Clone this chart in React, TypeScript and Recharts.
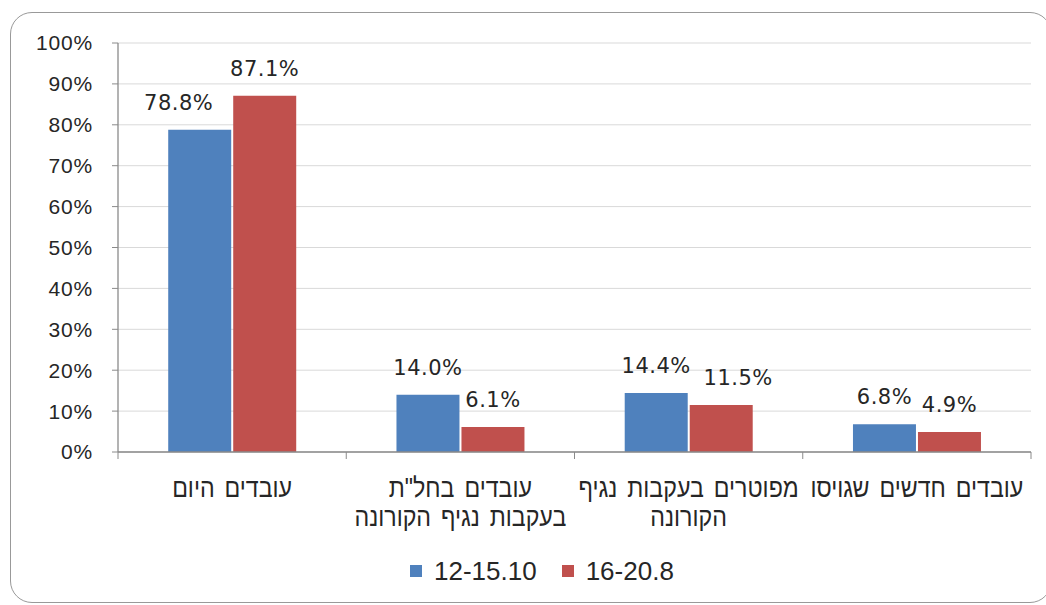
import React from 'react';
import { BarChart, Bar, XAxis, YAxis, CartesianGrid, LabelList, Legend } from 'recharts';

const categories = [
  'עובדים היום',
  'עובדים בחל"ת בעקבות נגיף הקורונה',
  'מפוטרים בעקבות נגיף הקורונה',
  'עובדים חדשים שגויסו',
];
const categoryLines = [
  ['עובדים היום'],
  ['עובדים בחל"ת', 'בעקבות נגיף הקורונה'],
  ['מפוטרים בעקבות נגיף', 'הקורונה'],
  ['עובדים חדשים שגויסו'],
];
const seriesNames = ['12-15.10', '16-20.8'];
const seriesA = [78.8, 14.0, 14.4, 6.8];
const seriesB = [87.1, 6.1, 11.5, 4.9];
const yTicks = [0, 10, 20, 30, 40, 50, 60, 70, 80, 90, 100];

const COLORS = ['#4F81BD', '#C0504D'];
const W = 1046;
const H = 605;
const MARGIN = { top: 43, right: 15, bottom: 73, left: 8 };
const Y_W = 110;
const X_H = 80;
const TICK_SIZE = 6;
const TICK_MARGIN = 2;
const BAND = (W - MARGIN.left - Y_W - MARGIN.right) / categories.length;
const TEXT = '#262626';
const AXIS = '#8a8a8a';
const LABEL_FONT = "'DejaVu Sans', Verdana, sans-serif";

const data = categories.map((c, i) => ({ name: c, a: seriesA[i], b: seriesB[i] }));

const XTick = (props: any) => {
  const { x, y, payload } = props;
  const idx = payload.index ?? props.index ?? 0;
  const lines = categoryLines[idx] || [payload.value];
  const axisY = y - TICK_SIZE - TICK_MARGIN;
  const half = BAND / 2;
  const isLast = idx === categories.length - 1;
  return (
    <g>
      <line x1={x - half} x2={x - half} y1={axisY} y2={axisY + 7} stroke={AXIS} strokeWidth={1} />
      {isLast && <line x1={x + half} x2={x + half} y1={axisY} y2={axisY + 7} stroke={AXIS} strokeWidth={1} />}
      {lines.map((l: string, i: number) => (
        <text
          key={i}
          x={0}
          y={0}
          transform={`translate(${x},${axisY + 45 + i * 29}) scale(0.86,1)`}
          textAnchor="middle"
          fontFamily="'Liberation Sans', Arial, sans-serif"
          fontSize={27}
          fill={TEXT}
          style={{ wordSpacing: 4 }}
        >
          {l}
        </text>
      ))}
    </g>
  );
};

const fmtLabel = (v: any) => `${Number(v).toFixed(1)}%`;

// A couple of labels are nudged sideways in the original chart to avoid overlapping neighbours.
const makeLabel = (nudges: Record<number, number>) => (props: any) => {
  const { x, y, width, value, index } = props;
  const dx = nudges[index] ?? 0;
  return (
    <text x={x + width / 2 + dx} y={y - 20} textAnchor="middle" fontFamily={LABEL_FONT} fontSize={21} fill={TEXT} style={{ letterSpacing: 0.5 }}>
      {fmtLabel(value)}
    </text>
  );
};

const LegendContent = () => (
  <div style={{ display: 'flex', alignItems: 'center', fontFamily: "'Liberation Sans', Arial, sans-serif", fontSize: 26, color: TEXT, lineHeight: '30px' }}>
    {seriesNames.map((n, i) => (
      <div key={n} style={{ display: 'flex', alignItems: 'center', marginRight: 25 }}>
        <span style={{ display: 'inline-block', width: 12, height: 12, background: COLORS[i], marginRight: 12 }} />
        <span>{n}</span>
      </div>
    ))}
  </div>
);

export default function App() {
  return (
    <div style={{ position: 'absolute', left: 0, top: 0, width: W, height: H, overflow: 'hidden', background: '#fff' }}>
      <div style={{ position: 'absolute', left: 10, top: 12, width: 1040, height: 589, border: '1.5px solid #999', borderRadius: 22 }} />
      <div style={{ position: 'absolute', left: 0, top: 0 }}>
        <BarChart width={W} height={H} data={data} margin={MARGIN} barCategoryGap="22%" barGap={2}>
          <CartesianGrid horizontal vertical={false} stroke="#d9d9d9" strokeWidth={1} />
          <XAxis
            dataKey="name"
            height={X_H}
            axisLine={{ stroke: AXIS, strokeWidth: 1.3 }}
            tickLine={false}
            tickSize={TICK_SIZE}
            tickMargin={TICK_MARGIN}
            interval={0}
            tick={<XTick />}
          />
          <YAxis
            width={Y_W}
            domain={[0, 100]}
            ticks={yTicks}
            interval={0}
            tickFormatter={(v: number) => `${v}%`}
            axisLine={{ stroke: AXIS, strokeWidth: 1.3 }}
            tickLine={{ stroke: AXIS }}
            tickSize={TICK_SIZE}
            tickMargin={19}
            tick={{ fontFamily: "'Liberation Sans', Arial, sans-serif", fontSize: 21, fill: TEXT, letterSpacing: 0.8 }}
          />
          <Legend
            layout="vertical"
            align="center"
            verticalAlign="middle"
            content={<LegendContent />}
            wrapperStyle={{ left: 410, top: 556, width: 320, height: 30 }}
          />
          <Bar dataKey="a" name={seriesNames[0]} fill={COLORS[0]} isAnimationActive={false}>
            <LabelList dataKey="a" content={makeLabel({ 0: -21 })} />
          </Bar>
          <Bar dataKey="b" name={seriesNames[1]} fill={COLORS[1]} isAnimationActive={false}>
            <LabelList dataKey="b" content={makeLabel({ 2: 17 })} />
          </Bar>
        </BarChart>
      </div>
    </div>
  );
}
